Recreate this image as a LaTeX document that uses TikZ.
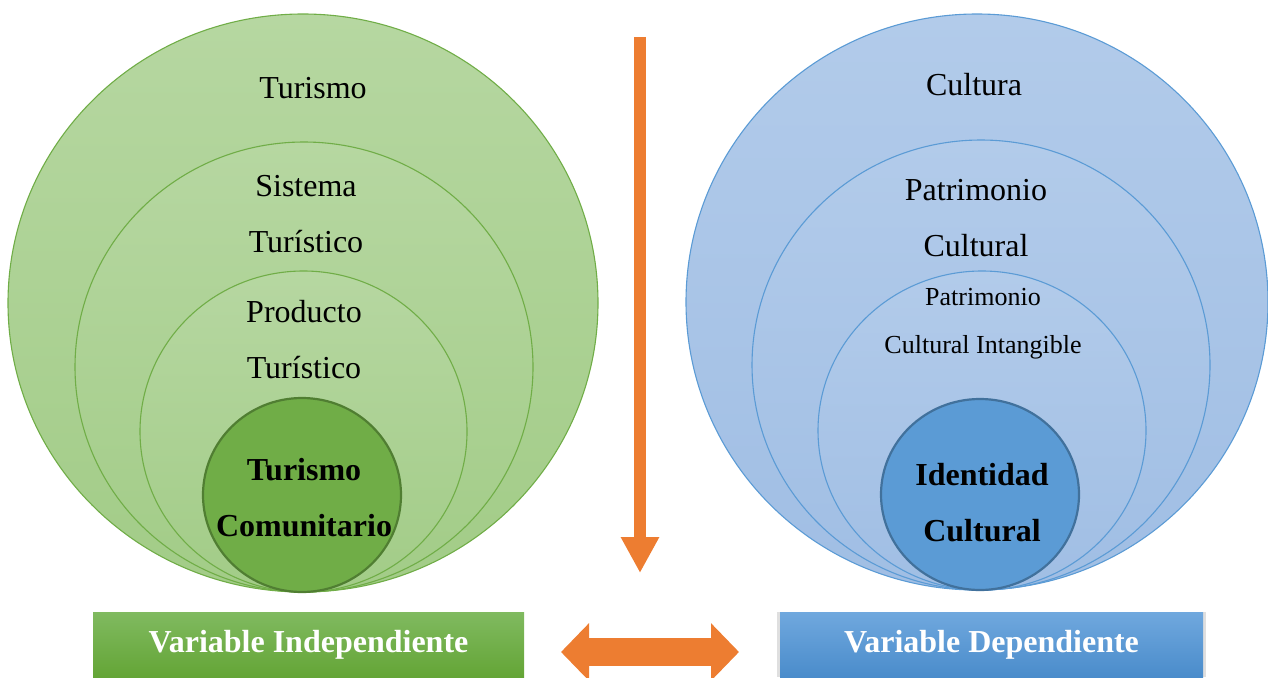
\documentclass[tikz,border=0pt]{standalone}
\usepackage{fontspec}
\setmainfont{Liberation Serif}
\usetikzlibrary{arrows.meta,shadows,shapes.geometric}

\definecolor{grnline}{HTML}{70AD47}
\definecolor{grntop}{HTML}{B6D7A1}
\definecolor{grnbot}{HTML}{A2CC87}
\definecolor{grndark}{HTML}{70AD47}
\definecolor{grnedge}{HTML}{507E32}
\definecolor{grnboxtop}{HTML}{80BA60}
\definecolor{grnboxbot}{HTML}{64A536}
\definecolor{blueline}{HTML}{5B9BD5}
\definecolor{bluetop}{HTML}{B2CBEA}
\definecolor{bluebot}{HTML}{A0BEE4}
\definecolor{bluedark}{HTML}{5B9BD5}
\definecolor{blueedge}{HTML}{41719C}
\definecolor{blueboxtop}{HTML}{70A8DE}
\definecolor{blueboxbot}{HTML}{4A8CCB}
\definecolor{arrorange}{HTML}{ED7D31}

\begin{document}
\begin{tikzpicture}[x=1pt,y=-1pt,
  every node/.style={align=center},
  ring/.style args={#1x#2}{ellipse,inner sep=0pt,minimum width=#1,minimum height=#2},
  grnring/.style={ring=#1,draw=grnline,line width=1.1pt,top color=grntop,bottom color=grnbot},
  bluering/.style={ring=#1,draw=blueline,line width=1.1pt,top color=bluetop,bottom color=bluebot},
  grncore/.style={ring=#1,draw=grnedge,line width=2.2pt,fill=grndark},
  bluecore/.style={ring=#1,draw=blueedge,line width=2.2pt,fill=bluedark},
  lbl/.style={font=\fontsize{32}{56}\selectfont},
  small/.style={font=\fontsize{26}{48}\selectfont},
  strong/.style={font=\fontsize{32}{56}\selectfont\bfseries},
  varbox/.style={minimum width=#1,minimum height=65pt,inner sep=0pt,text=white,
    font=\fontsize{32}{38}\selectfont\bfseries},
  flow/.style={arrorange,line width=12pt,-{Triangle[length=36pt,width=36pt]}},
  link/.style={arrorange,line width=28pt,{Triangle[length=28pt,width=56pt]}-{Triangle[length=28pt,width=56pt]}}]

  \useasboundingbox (0,0) rectangle (1268,677);

  % Left circles: independent variable
  \node[grnring=590ptx578pt] (turismo) at (303,303) {};
  \node[grnring=458ptx450pt] (sistema) at (304,367) {};
  \node[grnring=327ptx321pt] (producto) at (303.5,431.5) {};
  \node[grncore=198ptx194pt] (comunitario) at (302,495) {};

  % Right circles: dependent variable
  \node[bluering=582ptx576pt] (cultura) at (977,302) {};
  \node[bluering=458ptx450pt] (patrimonio) at (981,365) {};
  \node[bluering=328ptx319pt] (intangible) at (982,430.5) {};
  \node[bluecore=198ptx191pt] (identidad) at (980,494.5) {};

  % Texts inside the circles
  \node[lbl] (tturismo) at (313,88) {Turismo};
  \node[lbl] (tsistema) at (306,214) {Sistema\\Turístico};
  \node[lbl] (tproducto) at (304,340) {Producto\\Turístico};
  \node[strong] (tcomunitario) at (304,498) {Turismo\\Comunitario};
  \node[lbl] (tcultura) at (974,85) {Cultura};
  \node[lbl] (tpatrimonio) at (976,218) {Patrimonio\\Cultural};
  \node[small] (tintangible) at (983,324) {Patrimonio\\Cultural Intangible};
  \node[strong] (tidentidad) at (982,503) {Identidad\\Cultural};

  % Variable boxes
  \node[varbox=431pt,top color=grnboxtop,bottom color=grnboxbot] (indep) at (308.5,644.5) {Variable Independiente};
  \node[varbox=423pt,top color=blueboxtop,bottom color=blueboxbot,
    drop shadow={opacity=0.25,shadow xshift=0pt,shadow yshift=0pt,shadow scale=1.015}] (dep) at (991.5,644.5) {Variable Dependiente};

  % Arrows
  \coordinate (flowtop) at (640,37);
  \coordinate (flowend) at (640,573);
  \draw[flow] (flowtop) -- (flowend);
  \coordinate (linkl) at (561,652);
  \coordinate (linkr) at (739,652);
  \draw[link] (linkl) -- (linkr);
\end{tikzpicture}
\end{document}
